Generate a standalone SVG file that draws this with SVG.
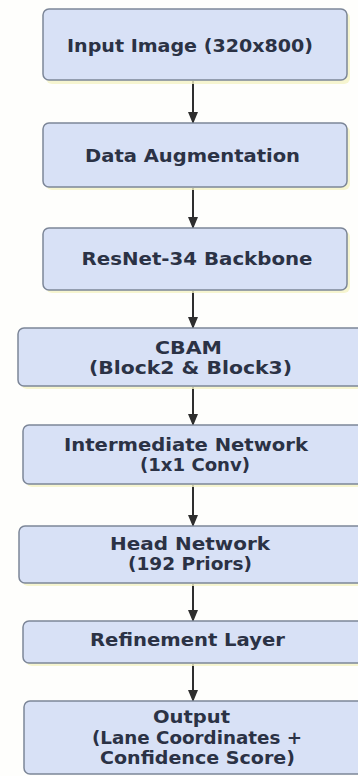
<svg xmlns="http://www.w3.org/2000/svg" width="358" height="776" viewBox="0 0 358 776">
<defs>
<style>
.box{fill:#d8e1f6;stroke:#7c8698;stroke-width:1.5}
.glow{fill:#f4f2c4;opacity:0.8}
.t{font-family:"DejaVu Sans","Liberation Sans",sans-serif;font-weight:bold;font-size:17px;fill:#2b3245;text-anchor:middle}
.c{stroke:#2e2e2e;stroke-width:2;fill:none;marker-end:url(#ah)}
</style>
<marker id="ah" markerWidth="12" markerHeight="10" refX="11" refY="5" orient="auto" markerUnits="userSpaceOnUse">
<path d="M0,0 L12,5 L0,10 Z" fill="#2e2e2e"/>
</marker>
</defs>
<rect width="358" height="776" fill="#fefefc"/>
<g id="connectors">
<line class="c" x1="193" y1="81" x2="193" y2="123"/>
<line class="c" x1="193" y1="188" x2="193" y2="228"/>
<line class="c" x1="193" y1="291" x2="193" y2="328"/>
<line class="c" x1="193" y1="387" x2="193" y2="425"/>
<line class="c" x1="193" y1="485" x2="193" y2="526"/>
<line class="c" x1="193" y1="584" x2="193" y2="621"/>
<line class="c" x1="193" y1="664" x2="193" y2="701"/>
</g>
<g id="n1">
<rect class="glow" x="46" y="12" width="304" height="72" rx="6"/>
<rect class="box" x="43" y="9" width="304" height="71" rx="6"/>
<text class="t" x="190" y="52" textLength="246" lengthAdjust="spacingAndGlyphs">Input Image (320x800)</text>
</g>
<g id="n2">
<rect class="glow" x="46" y="126" width="304" height="64" rx="6"/>
<rect class="box" x="43" y="123" width="304" height="64" rx="6"/>
<text class="t" x="192.5" y="162" textLength="215" lengthAdjust="spacingAndGlyphs">Data Augmentation</text>
</g>
<g id="n3">
<rect class="glow" x="46" y="231" width="304" height="62" rx="6"/>
<rect class="box" x="43" y="228" width="304" height="62" rx="6"/>
<text class="t" x="197" y="265" textLength="231" lengthAdjust="spacingAndGlyphs">ResNet-34 Backbone</text>
</g>
<g id="n4">
<rect class="glow" x="21" y="331" width="350" height="58" rx="6"/>
<rect class="box" x="18" y="328" width="352" height="58" rx="6"/>
<text class="t" x="188.5" y="354" textLength="67" lengthAdjust="spacingAndGlyphs">CBAM</text>
<text class="t" x="190.5" y="374" textLength="203" lengthAdjust="spacingAndGlyphs">(Block2 &amp; Block3)</text>
</g>
<g id="n5">
<rect class="glow" x="26" y="428" width="345" height="59" rx="6"/>
<rect class="box" x="23" y="425" width="347" height="59" rx="6"/>
<text class="t" x="186" y="451" textLength="244" lengthAdjust="spacingAndGlyphs">Intermediate Network</text>
<text class="t" x="195" y="471" textLength="110" lengthAdjust="spacingAndGlyphs">(1x1 Conv)</text>
</g>
<g id="n6">
<rect class="glow" x="22" y="529" width="349" height="57" rx="6"/>
<rect class="box" x="19" y="526" width="351" height="57" rx="6"/>
<text class="t" x="190" y="550" textLength="160" lengthAdjust="spacingAndGlyphs">Head Network</text>
<text class="t" x="190" y="570" textLength="124" lengthAdjust="spacingAndGlyphs">(192 Priors)</text>
</g>
<g id="n7">
<rect class="glow" x="26" y="624" width="345" height="42" rx="6"/>
<rect class="box" x="23" y="621" width="347" height="42" rx="6"/>
<text class="t" x="187.5" y="646" textLength="195" lengthAdjust="spacingAndGlyphs">Refinement Layer</text>
</g>
<g id="n8">
<rect class="box" x="24" y="701" width="346" height="73" rx="6"/>
<text class="t" x="191.5" y="723" textLength="77" lengthAdjust="spacingAndGlyphs">Output</text>
<text class="t" x="197" y="744" textLength="210" lengthAdjust="spacingAndGlyphs">(Lane Coordinates +</text>
<text class="t" x="197.5" y="764" textLength="195" lengthAdjust="spacingAndGlyphs">Confidence Score)</text>
</g>
</svg>
